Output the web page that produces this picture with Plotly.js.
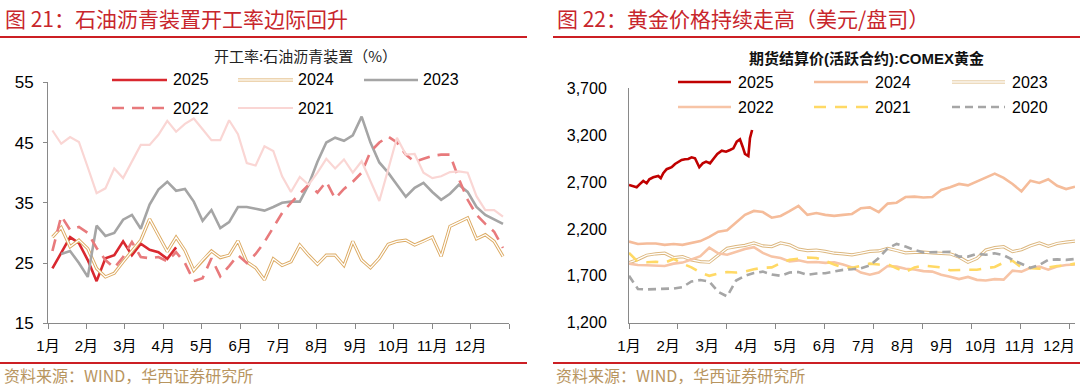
<!DOCTYPE html>
<html><head><meta charset="utf-8">
<script src="https://cdn.plot.ly/plotly-3.0.1.min.js"></script>
<style>html,body{margin:0;padding:0;background:#fff;}#chart{width:1080px;height:388px;}</style>
</head><body><div id="chart"></div>
<script>
// ---------- Left chart: 开工率:石油沥青装置（%）, weekly ----------
const monthLabels = ['1月','2月','3月','4月','5月','6月','7月','8月','9月','10月','11月','12月'];
const rateWeeks = [0.5,1.5,2.5,3.5,4.5,5.5,6.5,7.5,8.5,9.5,10.5,11.5,12.5,13.5,14.5,15.5,16.5,17.5,18.5,19.5,20.5,21.5,22.5,23.5,24.5,25.5,26.5,27.5,28.5,29.5,30.5,31.5,32.5,33.5,34.5,35.5,36.5,37.5,38.5,39.5,40.5,41.5,42.5,43.5,44.5,45.5,46.5,47.5,48.5,49.5,50.5,51.5];
const rate2025 = [24.1,26.8,29.3,28.3,25.5,22,25.8,26.3,28.6,26.3,28.2,27.2,26.8,25.7,27.6];
const rate2024 = [29.3,30.9,27.7,28.8,27.4,24.1,22.7,23.3,25.2,27,28.8,32.3,29.6,26.9,29.3,27.1,23.8,25.5,27,25.9,26.3,28.7,25.2,24.2,22.2,25.7,24.6,25.2,28,26.3,24.8,26.3,26.3,24.6,28.6,25.5,24.2,25.8,28.1,28.6,28.8,28,28.6,29.3,26.1,31.1,31.8,32.5,29,29.7,28.6,26.1];
const rate2023 = [null,26.5,27,25,22.7,31.2,29.5,30,32.2,33,30.7,34.7,37.2,38.5,37,37.3,35.2,32,33.8,30.8,31.8,34.3,34.3,34,33.7,34.3,35,35.2,35.2,38,41.8,45,45.8,45.3,46.2,49.3,45,41.7,40,38,36,37.5,38.3,36.8,35.5,36.5,38,36.8,34.3,33,32.2,31.5];
const rate2022 = [27,32.8,30.5,31,30,27.5,25.5,24.2,26,28.5,26,25.8,26,25.3,26.8,25,22,22.5,25.8,22.8,24.5,26.3,25,26.5,28.5,31,33.3,35,36.5,38,36.7,38.5,35.7,37.3,38.5,40,43.5,45,46,45,43,41.8,42.3,42.8,43,43,39,35.5,33,31.5,30.2,27.5];
const rate2021 = [47,44.8,45.9,45.1,40.9,36.6,37.4,40.7,39.1,41.8,44.6,44.6,46.3,48.6,46.8,48.1,49,47.2,45.4,45.4,48.7,46.4,41.6,41.2,44.4,43.6,39.4,36.8,39.3,38,40,42.3,40.7,42.2,40,41.9,38.6,35.3,40.5,45.8,43,43.1,40,39.1,39.4,40.1,40.2,40,36.1,33.8,33.8,32.7];
const rateTicks = [15,25,35,45,55];

// ---------- Right chart: COMEX黄金, trading-day index ----------
const goldDays = [0,5,10,15,20,25,30,35,40,45,50,55,60,65,70,75,80,85,90,95,100,105,110,115,120,125,130,135,140,145,150,155,160,165,170,175,180,185,190,195,200,205,210,215,220,225,230,235,240,245,250];
const gold2025Days = [0,2.4,4.3,6.2,8,9.9,11.4,13.6,16.4,17.8,19.2,21.1,23.9,25.8,27.6,29.5,31.4,33.2,35.1,37,39.4,41.3,43.2,45.4,47.6,49.5,52,54.4,56.6,58.5,60.4,62.2,63.7,65,66.9,67.8,69];
const gold2025 = [2669,2659,2645,2680,2712,2687,2730,2751,2765,2741,2794,2837,2858,2893,2918,2936,2943,2946,2964,2954,2858,2900,2918,2900,2954,3000,3035,3024,3042,3060,3131,3156,3077,3000,2978,3167,3255];
const gold2024 = [2065,2040,2045,2045,2030,2040,2030,2048,2070,2115,2171,2185,2265,2350,2392,2380,2320,2339,2390,2445,2350,2370,2350,2339,2350,2360,2421,2430,2380,2470,2480,2540,2545,2535,2540,2616,2645,2680,2665,2705,2745,2790,2745,2680,2600,2715,2690,2730,2660,2625,2650];
const gold2023 = [1840,1875,1920,1935,1941,1895,1905,1870,1851,1845,1920,1994,2012,2025,2050,2019,2012,2050,2030,1985,1969,1975,1960,1941,1935,1923,1941,1960,1965,1992,1970,1945,1950,1952,1945,1941,1935,1900,1845,1885,1975,2000,2010,1958,1978,2020,2050,2015,2045,2060,2070];
const gold2022 = [1830,1816,1812,1810,1805,1830,1841,1875,1910,2000,1940,1925,1955,1985,2005,1945,1905,1890,1853,1865,1845,1848,1838,1845,1820,1790,1735,1712,1735,1805,1798,1775,1768,1750,1745,1712,1690,1665,1688,1657,1650,1665,1660,1755,1745,1785,1798,1765,1800,1815,1820];
const gold2021 = [1945,1850,1845,1850,1840,1880,1830,1790,1735,1700,1725,1740,1735,1745,1770,1785,1790,1835,1870,1880,1895,1890,1860,1820,1790,1785,1810,1830,1820,1825,1780,1740,1790,1810,1800,1790,1760,1765,1765,1765,1780,1795,1840,1860,1790,1785,1775,1790,1805,1810,1830];
const gold2020 = [1700,1560,1555,1560,1565,1565,1580,1640,1655,1640,1530,1480,1650,1700,1730,1745,1715,1700,1735,1740,1710,1725,1728,1745,1763,1770,1781,1810,1890,1994,2040,2012,1975,1950,1950,1958,1955,1905,1905,1935,1925,1940,1920,1870,1830,1785,1816,1870,1875,1870,1880];
const goldTicks = [1200,1700,2200,2700,3200,3700];

// ---------- helpers ----------
const W = 1080, H = 388;
const px = x => x / W;
const py = y => 1 - y / H;

const leftTickPos = monthLabels.map((m, i) => i * 52.18 / 12).concat([52.18]);
const leftTickText = monthLabels.concat(['']);
const rightLabelPos = monthLabels.map((m, i) => i * 21.92);
const rightTickPos = [0,1,2,3,4,5,6,7,8,9].map(j => j * 27.41);

const traces = [];
function addLine(x, y, xa, ya, s) {
  traces.push({type:'scatter', mode:'lines', x:x, y:y, xaxis:xa, yaxis:ya,
    line:{color:s.color, width:s.width, dash:s.dash || 'solid'}, connectgaps:false, hoverinfo:'skip'});
  if (s.dbl) {
    traces.push({type:'scatter', mode:'lines', x:x, y:y, xaxis:xa, yaxis:ya,
      line:{color:'#ffffff', width:1.3}, hoverinfo:'skip'});
  }
}

const leftSeries = [
  {name:'2025', y:rate2025, color:'#d9282f', width:2.6, dash:'solid', dbl:false},
  {name:'2024', y:rate2024, color:'#dcaa62', width:3.2, dash:'solid', dbl:true},
  {name:'2023', y:rate2023, color:'#a5a5a5', width:2.6, dash:'solid', dbl:false},
  {name:'2022', y:rate2022, color:'#e87a7c', width:2.6, dash:'12px,8px', dbl:false},
  {name:'2021', y:rate2021, color:'#fad6d4', width:2.2, dash:'solid', dbl:false}
];
leftSeries.forEach(s => addLine(rateWeeks.slice(0, s.y.length), s.y, 'x', 'y', s));

const rightSeries = [
  {name:'2025', x:gold2025Days, y:gold2025, color:'#c00000', width:2.6, dash:'solid', dbl:false},
  {name:'2024', x:goldDays, y:gold2024, color:'#f5bc9a', width:2.6, dash:'solid', dbl:false},
  {name:'2023', x:goldDays, y:gold2023, color:'#dcb77f', width:3.2, dash:'solid', dbl:true},
  {name:'2022', x:goldDays, y:gold2022, color:'#f7c4a6', width:2.6, dash:'solid', dbl:false},
  {name:'2021', x:goldDays, y:gold2021, color:'#ffd965', width:2.6, dash:'12px,9px', dbl:false},
  {name:'2020', x:goldDays, y:gold2020, color:'#a6a6a6', width:2.6, dash:'8px,5px', dbl:false}
];
rightSeries.forEach(s => addLine(s.x, s.y, 'x2', 'y2', s));

const shapes = [];
const annotations = [];
function legendItem(s, x0, x1, y, tx) {
  shapes.push({type:'line', xref:'paper', yref:'paper', x0:px(x0), x1:px(x1), y0:py(y), y1:py(y),
    line:{color:s.color, width:s.width, dash:s.dash}});
  if (s.dbl) shapes.push({type:'line', xref:'paper', yref:'paper', x0:px(x0), x1:px(x1), y0:py(y), y1:py(y),
    line:{color:'#ffffff', width:1.3}});
  annotations.push({xref:'paper', yref:'paper', x:px(tx), y:py(y), text:s.name, showarrow:false,
    xanchor:'left', yanchor:'middle', font:{size:16, color:'#000'}});
}
const leftLegPos = [[112,167,80,171],[238,293,80,296],[364,418,80,421],[112,167,108,171],[238,293,108,296]];
leftSeries.forEach((s, i) => legendItem(s, ...leftLegPos[i]));
const rightLegPos = [[678,731,82,736],[814,868,82,873],[952,1005,82,1010],[678,731,107,736],[814,868,107,873],[952,1005,107,1010]];
rightSeries.forEach((s, i) => legendItem(s, ...rightLegPos[i]));

[[0,527],[553,1080]].forEach(r => {
  shapes.push({type:'line', xref:'paper', yref:'paper', x0:px(r[0]), x1:px(r[1]), y0:py(37), y1:py(37), line:{color:'#cc1f24', width:2}});
  shapes.push({type:'line', xref:'paper', yref:'paper', x0:px(r[0]), x1:px(r[1]), y0:py(363), y1:py(363), line:{color:'#cc1f24', width:2}});
});
const cjk = 'Noto Sans CJK SC, Liberation Sans, sans-serif';
annotations.push({xref:'paper', yref:'paper', x:px(3), y:py(18), text:'图 21：石油沥青装置开工率边际回升', showarrow:false, xanchor:'left', yanchor:'middle', font:{family:cjk, size:21, color:'#c8262c'}});
annotations.push({xref:'paper', yref:'paper', x:px(555), y:py(18), text:'图 22：黄金价格持续走高（美元/盘司）', showarrow:false, xanchor:'left', yanchor:'middle', font:{family:cjk, size:21, color:'#c8262c'}});
annotations.push({xref:'paper', yref:'paper', x:px(3), y:py(375), text:'资料来源：WIND，华西证券研究所', showarrow:false, xanchor:'left', yanchor:'middle', borderpad:0, font:{family:cjk, size:16, color:'#b8955f'}});
annotations.push({xref:'paper', yref:'paper', x:px(555), y:py(375), text:'资料来源：WIND，华西证券研究所', showarrow:false, xanchor:'left', yanchor:'middle', borderpad:0, font:{family:cjk, size:16, color:'#b8955f'}});
annotations.push({xref:'paper', yref:'paper', x:px(305), y:py(56), text:'开工率:石油沥青装置（%）', showarrow:false, xanchor:'center', yanchor:'middle', font:{family:cjk, size:15, color:'#222'}});
annotations.push({xref:'paper', yref:'paper', x:px(866), y:py(58), text:'<b>期货结算价(活跃合约):COMEX黄金</b>', showarrow:false, xanchor:'center', yanchor:'middle', font:{family:'Liberation Sans, Noto Sans CJK SC, sans-serif', size:15, color:'#111'}});

const axisCommon = {showline:true, linecolor:'#898989', linewidth:1, showgrid:false, zeroline:false, tickcolor:'#898989', tickwidth:1};
const layout = {
  width:W, height:H, margin:{l:0, r:0, t:0, b:0}, paper_bgcolor:'#ffffff', plot_bgcolor:'rgba(0,0,0,0)',
  showlegend:false,
  font:{family:'Liberation Sans, Arial, Noto Sans CJK SC, sans-serif', size:15, color:'#000'},
  xaxis:Object.assign({}, axisCommon, {domain:[px(48), px(509)], range:[0, 52.18], anchor:'y',
    tickmode:'array', tickvals:leftTickPos, ticktext:leftTickText, ticks:'outside', ticklen:5, ticklabelstandoff:4,
    tickfont:{size:15}}),
  yaxis:Object.assign({}, axisCommon, {domain:[py(323.3), py(82.3)], range:[15, 55], anchor:'x',
    tickmode:'array', tickvals:rateTicks, ticks:'outside', ticklen:4, ticklabelstandoff:6, tickfont:{size:17}}),
  xaxis2:Object.assign({}, axisCommon, {domain:[px(629), px(1075)], range:[0, 250], anchor:'y2',
    tickmode:'array', tickvals:rightLabelPos, ticktext:monthLabels, ticks:'', ticklabelstandoff:9,
    tickfont:{size:15},
    minor:{tickmode:'array', tickvals:rightTickPos, ticks:'outside', ticklen:5, tickcolor:'#898989', showgrid:false}}),
  yaxis2:Object.assign({}, axisCommon, {domain:[py(322.7), py(88.3)], range:[1200, 3700], anchor:'x2',
    tickmode:'array', tickvals:goldTicks, tickformat:',d', ticks:'', ticklabelstandoff:18, tickfont:{size:16}}),
  shapes:shapes, annotations:annotations
};
Plotly.newPlot('chart', traces, layout, {staticPlot:true, displayModeBar:false});
</script>
</body></html>
